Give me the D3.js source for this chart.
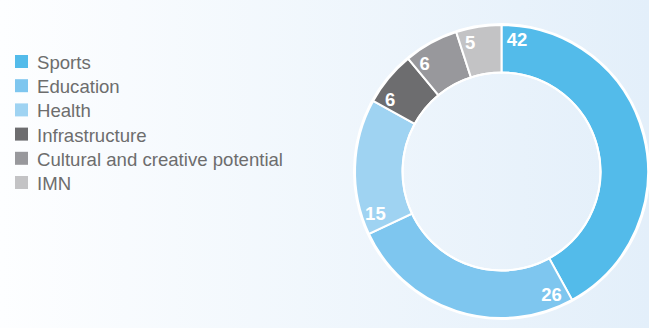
<!DOCTYPE html>
<html>
<head>
<meta charset="utf-8">
<script src="https://cdn.jsdelivr.net/npm/d3@7"></script>
<style>
  html, body { margin: 0; padding: 0; }
  body { width: 649px; height: 328px; overflow: hidden; }
</style>
</head>
<body>
<script>
// chart data
const categories = ["Sports", "Education", "Health", "Infrastructure", "Cultural and creative potential", "IMN"];
const values = [42, 26, 15, 6, 6, 5];
const colors = ["#53bbea", "#7ec6ef", "#9fd3f2", "#6d6d6f", "#98989c", "#c3c3c5"];

const W = 649, H = 328;
const svg = d3.select("body").append("svg").attr("width", W).attr("height", H);

// background gradient
const grad = svg.append("defs").append("linearGradient").attr("id", "bg")
    .attr("x1", "0%").attr("x2", "100%").attr("y1", "0%").attr("y2", "0%");
grad.append("stop").attr("offset", "0%").attr("stop-color", "#fdfeff");
grad.append("stop").attr("offset", "100%").attr("stop-color", "#e3effa");
svg.append("rect").attr("width", W).attr("height", H).attr("fill", "url(#bg)");

// legend
const legend = svg.append("g").attr("transform", "translate(15,55)");
const rows = legend.selectAll("g").data(categories).enter().append("g")
    .attr("transform", (d, i) => "translate(0," + (i * 24.2) + ")");
rows.append("rect").attr("width", 13).attr("height", 13)
    .attr("fill", (d, i) => colors[i]);
rows.append("text").text(d => d)
    .attr("x", 22).attr("y", 14)
    .style("font-family", "'Liberation Sans', Arial, sans-serif")
    .style("font-size", "18.6px")
    .style("fill", "#6d6d6d");

// donut
const cx = 501.5, cy = 171.5, rOut = 146.5, rIn = 99;
const pie = d3.pie().sort(null).value(d => d);
const arcs = pie(values);
const arc = d3.arc().innerRadius(rIn).outerRadius(rOut);
const g = svg.append("g").attr("transform", "translate(" + cx + "," + cy + ")");

g.append("circle").attr("r", rOut + 1).attr("fill", "none")
    .attr("stroke", "#ffffff").attr("stroke-width", 2);
g.selectAll("path.slice").data(arcs).enter().append("path")
    .attr("class", "slice")
    .attr("d", arc)
    .attr("fill", (d, i) => colors[i])
    .attr("stroke", "#ffffff").attr("stroke-width", 2);
g.append("circle").attr("r", rIn).attr("fill", "none")
    .attr("stroke", "#ffffff").attr("stroke-width", 2);

// value labels, just clockwise from the start of each slice
const rLab = 133;
g.selectAll("text.val").data(arcs).enter().append("text")
    .attr("class", "val")
    .text(d => d.value)
    .attr("transform", d => {
        const len = String(d.value).length;
        const a = d.startAngle + (4.5 + 5.5 * len) / rLab;
        return "translate(" + (Math.sin(a) * rLab) + "," + (-Math.cos(a) * rLab) + ")";
    })
    .attr("text-anchor", "middle")
    .attr("dy", "0.36em")
    .style("font-family", "'Liberation Sans', Arial, sans-serif")
    .style("font-weight", "bold")
    .style("font-size", "18.5px")
    .style("fill", "#ffffff");
</script>
</body>
</html>
